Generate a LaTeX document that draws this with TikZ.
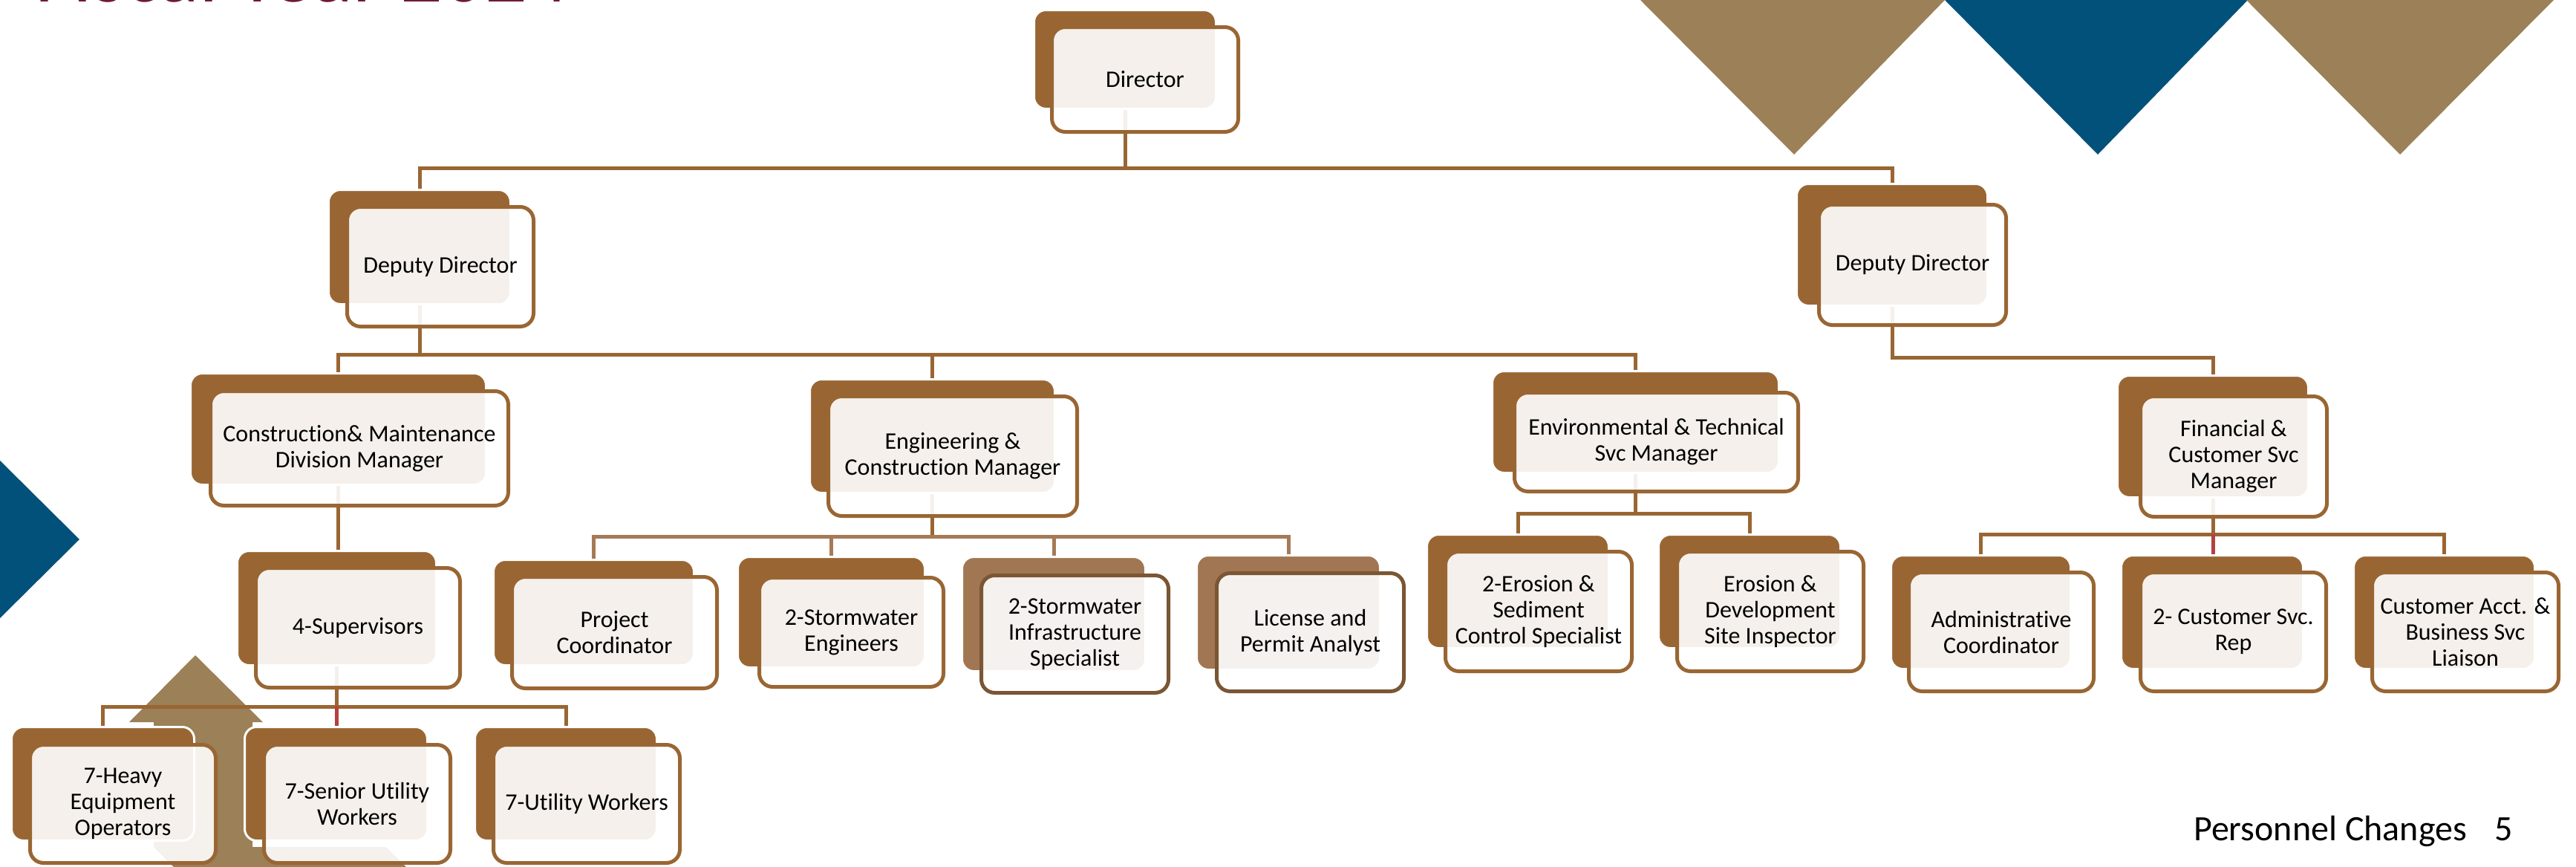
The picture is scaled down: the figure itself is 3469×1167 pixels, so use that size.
\documentclass[tikz,border=0pt]{standalone}
\usepackage{fontspec}
\setmainfont{Carlito}[Ligatures={NoCommon}]
\usetikzlibrary{calc}
\definecolor{brn}{RGB}{153,102,51}
\definecolor{brnlight}{RGB}{161,118,82}
\definecolor{brndark}{RGB}{122,86,52}
\definecolor{connlight}{RGB}{166,122,86}
\definecolor{tanc}{RGB}{155,128,88}
\definecolor{navy}{RGB}{2,81,123}
\definecolor{redc}{RGB}{180,64,64}
\definecolor{maroon}{RGB}{112,24,56}
\pgfdeclarelayer{deco}
\pgfdeclarelayer{lines}
\pgfsetlayers{deco,lines,main}
\begin{document}
\begin{tikzpicture}[x=1pt,y=-1pt,
  backbox/.style={draw=white, line width=3pt, fill=brn, rounded corners=16pt, inner sep=0pt},
  backlight/.style={backbox, fill=brnlight},
  frontbox/.style={draw=brn, line width=5pt, fill=white, fill opacity=0.9, text opacity=1,
    rounded corners=18pt, inner sep=0pt, align=center, text=black,
    font=\fontsize{32}{35}\selectfont},
  frontdark/.style={frontbox, draw=brndark},
  conn/.style={draw=brn, line width=5pt},
  connl/.style={draw=connlight, line width=5pt},
  connr/.style={draw=redc, line width=5pt}]
\useasboundingbox (0,0) rectangle (3469,1167);

% decorations
\begin{pgfonlayer}{deco}
\fill[tanc] (2207,-2) -- (2621,-2) -- (2416,208) -- cycle;
\fill[navy] (2617,-2) -- (3029,-2) -- (2825,208) -- cycle;
\fill[tanc] (3023,-2) -- (3441,-2) -- (3232,208) -- cycle;
\fill[navy] (-2,618) -- (107,726) -- (-2,834) -- cycle;
\fill[tanc] (174,972) -- (263,882) -- (354,972) -- (340,972) -- (340,1140) -- (207,1140) -- (207,972) -- cycle;
\fill[tanc] (207,1140) -- (520,1140) -- (550,1170) -- (237,1170) -- cycle;
\end{pgfonlayer}

\node[anchor=base west, inner sep=0pt, text=maroon, font=\fontsize{112}{112}\selectfont] (title) at (47,2) {Fiscal Year 2024};
\node[anchor=base west, inner sep=0pt, font=\fontsize{48}{48}\selectfont] (foot) at (2954,1131) {Personnel Changes};
\node[anchor=base west, inner sep=0pt, font=\fontsize{48}{48}\selectfont] (pageno) at (3359,1131) {5};

% level 0
\node[backbox, minimum width=245pt, minimum height=133pt] (dirB) at (1515,80) {};
\node[frontbox, minimum width=251pt, minimum height=141pt] (dirF) at (1542,107) {Director};
% level 1
\node[backbox, minimum width=245pt, minimum height=154pt] (dlB) at (565,332.5) {};
\node[frontbox, minimum width=251pt, minimum height=161pt] (dlF) at (593,359) {Deputy Director};
\node[backbox, minimum width=257pt, minimum height=164pt] (drB) at (2548,329.5) {};
\node[frontbox, minimum width=252pt, minimum height=162pt] (drF) at (2575.5,356.5) {Deputy Director};
% level 2
\node[backbox, minimum width=398pt, minimum height=150pt] (conB) at (455.5,577.5) {};
\node[frontbox, minimum width=401pt, minimum height=154pt] (conF) at (484,603.5) {Construction\& Maintenance\\Division Manager};
\node[backbox, minimum width=330pt, minimum height=153pt] (engB) at (1255.5,587) {};
\node[frontbox, minimum width=335pt, minimum height=161pt] (engF) at (1283,614) {Engineering \&\\Construction Manager};
\node[backbox, minimum width=386pt, minimum height=137pt] (envB) at (2202.5,568) {};
\node[frontbox, minimum width=382pt, minimum height=133pt] (envF) at (2230.5,595) {Environmental \& Technical\\Svc Manager};
\node[backbox, minimum width=257pt, minimum height=164pt] (finB) at (2980,587.5) {};
\node[frontbox, minimum width=251pt, minimum height=162pt] (finF) at (3008,614.5) {Financial \&\\Customer Svc\\Manager};
% level 3
\node[backbox, minimum width=268pt, minimum height=154pt] (supB) at (453.5,818.5) {};
\node[frontbox, minimum width=275pt, minimum height=161pt] (supF) at (482,845) {4-Supervisors};
\node[backbox, minimum width=270pt, minimum height=142pt] (proB) at (799.5,824.5) {};
\node[frontbox, minimum width=276pt, minimum height=150pt] (proF) at (827.5,851.5) {Project\\Coordinator};
\node[backbox, minimum width=252pt, minimum height=149pt] (sweB) at (1119.5,824) {};
\node[frontbox, minimum width=248pt, minimum height=147pt] (sweF) at (1146.5,851) {2-Stormwater\\Engineers};
\node[backlight, minimum width=247pt, minimum height=154pt] (infB) at (1419,826.5) {};
\node[frontdark, minimum width=252pt, minimum height=158pt] (infF) at (1447.5,853.5) {2-Stormwater\\Infrastructure\\Specialist};
\node[backlight, minimum width=247pt, minimum height=154pt] (licB) at (1735,824.5) {};
\node[frontdark, minimum width=252pt, minimum height=159pt] (licF) at (1764.5,851) {License and\\Permit Analyst};
\node[backbox, minimum width=245pt, minimum height=153pt] (e2B) at (2044,796) {};
\node[frontbox, minimum width=251pt, minimum height=161pt] (e2F) at (2072,823) {2-Erosion \&\\Sediment\\Control Specialist};
\node[backbox, minimum width=245pt, minimum height=153pt] (edB) at (2356,796) {};
\node[frontbox, minimum width=251pt, minimum height=161pt] (edF) at (2384,823) {Erosion \&\\Development\\Site Inspector};
\node[backbox, minimum width=242pt, minimum height=153pt] (admB) at (2667.5,824) {};
\node[frontbox, minimum width=249pt, minimum height=160pt] (admF) at (2695,850.5) {Administrative\\Coordinator};
\node[backbox, minimum width=245pt, minimum height=153pt] (repB) at (2979,824) {};
\node[frontbox, minimum width=250pt, minimum height=160pt] (repF) at (3007.5,850.5) {2- Customer Svc.\\Rep};
\node[backbox, minimum width=244pt, minimum height=153pt] (accB) at (3291.5,824) {};
\node[frontbox, minimum width=251pt, minimum height=160pt] (accF) at (3320,850.5) {Customer Acct. \&\\Business Svc\\Liaison};
% level 4
\node[backbox, minimum width=246pt, minimum height=153pt] (hvyB) at (138.5,1055) {};
\node[frontbox, minimum width=250pt, minimum height=159pt] (hvyF) at (165.5,1082) {7-Heavy\\Equipment\\Operators};
\node[backbox, minimum width=246pt, minimum height=153pt] (senB) at (452.5,1055) {};
\node[frontbox, minimum width=251pt, minimum height=159pt] (senF) at (481,1082) {7-Senior Utility\\Workers};
\node[backbox, minimum width=245pt, minimum height=153pt] (utlB) at (762,1055) {};
\node[frontbox, minimum width=251pt, minimum height=159pt] (utlF) at (790,1082) {7-Utility Workers};

% connectors
\begin{pgfonlayer}{lines}
\draw[conn] (dirB.south) -- ++(0,78) coordinate (bus0);
\draw[conn] (dlB.north) |- (bus0) -| (drB.north);

\draw[conn] (dlB.south) -- ++(0,66) coordinate (bus1);
\draw[conn] (conB.north) |- (bus1) -| (envB.north);
\draw[conn] (engB.north) -- (engB.north |- bus1);

\draw[conn] (drB.south) -- ++(0,68) -| (finB.north);

\draw[conn] (conB.south) -- (conB.south |- supB.north);

\draw[conn] (engB.south) -- ++(0,57) coordinate (bus2);
\draw[connl] (proB.north) |- (bus2) -| (licB.north);
\draw[connl] (sweB.north) -- (sweB.north |- bus2);
\draw[connl] (infB.north) -- (infB.north |- bus2);

\draw[conn] (envB.south) -- ++(0,53) coordinate (bus3);
\draw[conn] (e2B.north) |- (bus3) -| (edB.north);

\draw[conn] (finB.south) -- ++(0,48) coordinate (bus4);
\draw[conn] (admB.north) |- (bus4) -| (accB.north);
\draw[connr] (bus4) -- (bus4 |- repB.north);

\draw[conn] (supB.south) -- ++(0,54) coordinate (bus5);
\draw[conn] (hvyB.north) |- (bus5) -| (utlB.north);
\draw[connr] (bus5) -- (bus5 |- senB.north);
\end{pgfonlayer}
\end{tikzpicture}
\end{document}
